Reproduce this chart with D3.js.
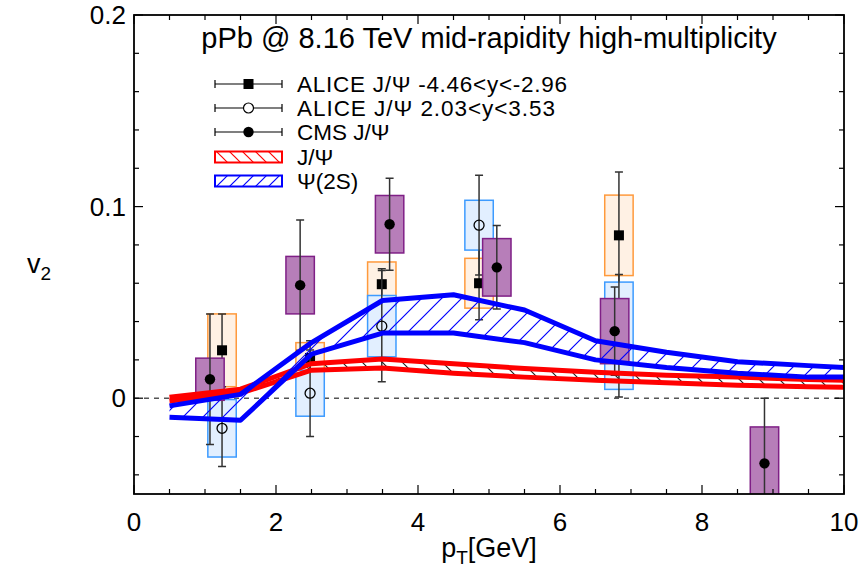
<!DOCTYPE html>
<html>
<head>
<meta charset="utf-8">
<script src="https://cdn.jsdelivr.net/npm/d3@7"></script>
<style>
  body { margin: 0; background: #fff; }
  text { font-family: 'Liberation Sans', Arial, sans-serif; }
</style>
</head>
<body>
<div id="chart"></div>
<script>
// model bands (pt grid + upper/lower edges)
const bandPt = [0.5, 1.5, 2.5, 3.5, 4.5, 5.5, 6.5, 7.5, 8.5, 9.5, 10];
const jpsiUpper = [0.0005, 0.0047, 0.018, 0.0205, 0.018, 0.0155, 0.0135, 0.012, 0.011, 0.0097, 0.0094];
const jpsiLower = [-0.0015, 0.0026, 0.0146, 0.0158, 0.013, 0.011, 0.0094, 0.008, 0.0068, 0.006, 0.0057];
const psi2sUpper = [-0.004, 0.002, 0.029, 0.051, 0.054, 0.046, 0.030, 0.024, 0.019, 0.017, 0.016];
const psi2sLower = [-0.010, -0.0115, 0.023, 0.034, 0.034, 0.029, 0.020, 0.016, 0.013, 0.011, 0.011];

// ALICE J/Psi -4.46<y<-2.96 (filled squares)
const aliceFwdPt = [1.24, 2.48, 3.49, 4.86, 6.83];
const aliceFwdV2 = [0.025, 0.021, 0.0595, 0.060, 0.085];
const aliceFwdStat = [0.019, 0.009, 0.008, 0.019, 0.033];
const aliceFwdSyst = [0.019, 0.008, 0.0116, 0.013, 0.021];

// ALICE J/Psi 2.03<y<3.53 (open circles)
const aliceBwdPt = [1.24, 2.48, 3.49, 4.86, 6.83];
const aliceBwdV2 = [-0.0157, 0.0026, 0.0376, 0.0903, 0.0326];
const aliceBwdStat = [0.020, 0.0226, 0.029, 0.026, 0.032];
const aliceBwdSyst = [0.015, 0.012, 0.016, 0.013, 0.028];

// CMS J/Psi (filled circles)
const cmsPt = [1.07, 2.34, 3.6, 5.11, 6.77, 8.88];
const cmsV2 = [0.0099, 0.059, 0.0908, 0.0683, 0.035, -0.034];
const cmsStat = [0.034, 0.034, 0.024, 0.0218, 0.023, 0.034];
const cmsSyst = [0.011, 0.015, 0.015, 0.015, 0.017, 0.019];

const xTickLabels = [0, 2, 4, 6, 8, 10];
const yTickLabels = [0, 0.1, 0.2];
const legendLabels = ['ALICE J/\u03A8 -4.46<y<-2.96', 'ALICE J/\u03A8 2.03<y<3.53', 'CMS J/\u03A8', 'J/\u03A8', '\u03A8(2S)'];

const width = 863;
const height = 570;
const margin = { top: 15, right: 19, bottom: 76, left: 134 };
const boxHalf = 0.2;

const svg = d3.select('#chart').append('svg')
  .attr('width', width)
  .attr('height', height);

const x = d3.scaleLinear().domain([0, 10]).range([margin.left, width - margin.right]);
const y = d3.scaleLinear().domain([-0.05, 0.2]).range([height - margin.bottom, margin.top]);

const defs = svg.append('defs');
function hatch(id, color, dir, step) {
  const p = defs.append('pattern')
    .attr('id', id)
    .attr('patternUnits', 'userSpaceOnUse')
    .attr('width', step)
    .attr('height', step);
  const d = dir > 0
    ? `M0,${step} L${step},0 M${-step / 2},${step / 2} L${step / 2},${-step / 2} M${step / 2},${step * 1.5} L${step * 1.5},${step / 2}`
    : `M0,0 L${step},${step} M${-step / 2},${step / 2} L${step / 2},${step * 1.5} M${step / 2},${-step / 2} L${step * 1.5},${step / 2}`;
  p.append('path').attr('d', d).attr('stroke', color).attr('stroke-width', 1.2).attr('fill', 'none');
}
hatch('hatchRed', '#222', -1, 20);
hatch('hatchBlue', '#0000ff', 1, 20);
hatch('hatchRedLeg', '#ff0000', -1, 13);
hatch('hatchBlueLeg', '#0000ff', 1, 13);

defs.append('clipPath').attr('id', 'plotClip')
  .append('rect')
  .attr('x', x(0)).attr('y', y(0.2))
  .attr('width', x(10) - x(0)).attr('height', y(-0.05) - y(0.2));

const plot = svg.append('g').attr('clip-path', 'url(#plotClip)');

// zero line
plot.append('line')
  .attr('x1', x(0)).attr('x2', x(10))
  .attr('y1', y(0)).attr('y2', y(0))
  .attr('stroke', '#555')
  .attr('stroke-width', 1.5)
  .attr('stroke-dasharray', '5,5');

function rows(pt, v2, stat, syst) {
  return pt.map((p, i) => ({ pt: p, v2: v2[i], stat: stat[i], syst: syst[i] }));
}

// one experiment: syst boxes, stat bars, markers
function series(data, fill, stroke, marker) {
  const g = plot.append('g');
  g.append('g')
    .selectAll('rect')
    .data(data)
    .join('rect')
      .attr('x', d => x(d.pt - boxHalf))
      .attr('width', d => x(d.pt + boxHalf) - x(d.pt - boxHalf))
      .attr('y', d => y(d.v2 + d.syst))
      .attr('height', d => y(d.v2 - d.syst) - y(d.v2 + d.syst))
      .attr('fill', fill)
      .attr('stroke', stroke)
      .attr('stroke-width', 1.5);

  const eb = g.append('g')
    .attr('stroke', '#333')
    .attr('stroke-width', 1.5);
  eb.selectAll('line')
    .data(data)
    .join('line')
      .attr('x1', d => x(d.pt)).attr('x2', d => x(d.pt))
      .attr('y1', d => y(d.v2 + d.stat)).attr('y2', d => y(d.v2 - d.stat));
  eb.selectAll('path')
    .data(data)
    .join('path')
      .attr('d', d => `M${x(d.pt) - 4},${y(d.v2 + d.stat)}h8M${x(d.pt) - 4},${y(d.v2 - d.stat)}h8`);

  const m = g.append('g');
  if (marker === 'square') {
    m.selectAll('rect')
      .data(data)
      .join('rect')
        .attr('x', d => x(d.pt) - 5)
        .attr('y', d => y(d.v2) - 5)
        .attr('width', 10)
        .attr('height', 10)
        .attr('fill', '#000');
  } else {
    m.selectAll('circle')
      .data(data)
      .join('circle')
        .attr('cx', d => x(d.pt))
        .attr('cy', d => y(d.v2))
        .attr('r', marker === 'open' ? 5 : 5.2)
        .attr('fill', marker === 'open' ? 'none' : '#000')
        .attr('stroke', marker === 'open' ? '#000' : 'none')
        .attr('stroke-width', 1.3);
  }
}
series(rows(aliceFwdPt, aliceFwdV2, aliceFwdStat, aliceFwdSyst), '#fff1e4', '#ff9a3c', 'square');
series(rows(aliceBwdPt, aliceBwdV2, aliceBwdStat, aliceBwdSyst), '#e2efff', '#3d9bff', 'open');
series(rows(cmsPt, cmsV2, cmsStat, cmsSyst), '#b77eb9', '#7f1f86', 'filled');

// model bands
function band(upper, lower, color, patternId) {
  const pts = bandPt.map((p, i) => ({ pt: p, hi: upper[i], lo: lower[i] }));
  plot.append('path')
    .datum(pts)
    .attr('fill', `url(#${patternId})`)
    .attr('d', d3.area().x(d => x(d.pt)).y0(d => y(d.lo)).y1(d => y(d.hi)));
  const line = d3.line().x(d => x(d.pt));
  [d => y(d.hi), d => y(d.lo)].forEach(acc => {
    plot.append('path')
      .datum(pts)
      .attr('fill', 'none')
      .attr('stroke', color)
      .attr('stroke-width', 5)
      .attr('stroke-linejoin', 'round')
      .attr('d', line.y(acc));
  });
}
band(jpsiUpper, jpsiLower, '#ff0000', 'hatchRed');
band(psi2sUpper, psi2sLower, '#0000ff', 'hatchBlue');

// axes
const axes = svg.append('g');
const xMinor = d3.range(0, 10.01, 0.5);
const yMinor = d3.range(-0.04, 0.2001, 0.02);
function isMajorX(v) { return Math.abs(v / 2 - Math.round(v / 2)) < 1e-6; }
function isMajorY(v) { return Math.abs(v / 0.1 - Math.round(v / 0.1)) < 1e-6; }

axes.append('g').selectAll('line')
  .data(xMinor)
  .join('line')
    .attr('x1', d => x(d)).attr('x2', d => x(d))
    .attr('y1', y(-0.05)).attr('y2', d => y(-0.05) - (isMajorX(d) ? 9 : 5))
    .attr('stroke', '#000').attr('stroke-width', 1.2);
axes.append('g').selectAll('line')
  .data(xMinor)
  .join('line')
    .attr('x1', d => x(d)).attr('x2', d => x(d))
    .attr('y1', y(0.2)).attr('y2', d => y(0.2) + (isMajorX(d) ? 9 : 5))
    .attr('stroke', '#000').attr('stroke-width', 1.2);
axes.append('g').selectAll('line')
  .data(yMinor)
  .join('line')
    .attr('y1', d => y(d)).attr('y2', d => y(d))
    .attr('x1', x(0)).attr('x2', d => x(0) + (isMajorY(d) ? 9 : 5))
    .attr('stroke', '#000').attr('stroke-width', 1.2);
axes.append('g').selectAll('line')
  .data(yMinor)
  .join('line')
    .attr('y1', d => y(d)).attr('y2', d => y(d))
    .attr('x1', x(10)).attr('x2', d => x(10) - (isMajorY(d) ? 9 : 5))
    .attr('stroke', '#000').attr('stroke-width', 1.2);

axes.append('rect')
  .attr('x', x(0)).attr('y', y(0.2))
  .attr('width', x(10) - x(0)).attr('height', y(-0.05) - y(0.2))
  .attr('fill', 'none')
  .attr('stroke', '#000')
  .attr('stroke-width', 1.8);

axes.append('g')
  .attr('font-size', 26)
  .attr('text-anchor', 'middle')
  .selectAll('text')
  .data(xTickLabels)
  .join('text')
    .attr('x', d => x(d))
    .attr('y', y(-0.05) + 37)
    .text(d => d);

axes.append('g')
  .attr('font-size', 26)
  .attr('text-anchor', 'end')
  .selectAll('text')
  .data(yTickLabels)
  .join('text')
    .attr('x', x(0) - 8)
    .attr('y', d => y(d) + 9)
    .text(d => d);

// axis titles
const xt = svg.append('text')
  .attr('x', x(5))
  .attr('y', 557)
  .attr('text-anchor', 'middle')
  .attr('font-size', 27);
xt.append('tspan').text('p');
xt.append('tspan').attr('font-size', 19).attr('dy', 7).text('T');
xt.append('tspan').attr('dy', -7).text('[GeV]');

const yt = svg.append('text')
  .attr('x', 27)
  .attr('y', 273)
  .attr('font-size', 27);
yt.append('tspan').text('v');
yt.append('tspan').attr('font-size', 19).attr('dy', 7).text('2');

svg.append('text')
  .attr('x', x(5))
  .attr('y', 48)
  .attr('text-anchor', 'middle')
  .attr('font-size', 29)
  .text('pPb @ 8.16 TeV mid-rapidity high-multiplicity');

// legend
const legend = svg.append('g').attr('font-size', 22.5);
const legX0 = 215, legX1 = 282, legTextX = 297;
const legY = [84, 108, 132, 157, 181];

[0, 1, 2].forEach(i => {
  const g = legend.append('g').attr('stroke', '#000').attr('stroke-width', 1.2);
  g.append('path').attr('d', `M${legX0},${legY[i]}H${legX1}M${legX0},${legY[i] - 4}v8M${legX1},${legY[i] - 4}v8`);
});
legend.append('rect').attr('x', (legX0 + legX1) / 2 - 5).attr('y', legY[0] - 5).attr('width', 10).attr('height', 10).attr('fill', '#000');
legend.append('circle').attr('cx', (legX0 + legX1) / 2).attr('cy', legY[1]).attr('r', 5).attr('fill', '#fff').attr('stroke', '#000').attr('stroke-width', 1.2);
legend.append('circle').attr('cx', (legX0 + legX1) / 2).attr('cy', legY[2]).attr('r', 5.2).attr('fill', '#000');

legend.append('rect').attr('x', legX0).attr('y', legY[3] - 5.5).attr('width', legX1 - legX0).attr('height', 11)
  .attr('fill', 'url(#hatchRedLeg)').attr('stroke', '#ff0000').attr('stroke-width', 2);
legend.append('rect').attr('x', legX0).attr('y', legY[4] - 5.5).attr('width', legX1 - legX0).attr('height', 11)
  .attr('fill', 'url(#hatchBlueLeg)').attr('stroke', '#0000ff').attr('stroke-width', 2);

legend.selectAll('text.lab')
  .data(legendLabels)
  .join('text')
    .attr('x', legTextX)
    .attr('y', (d, i) => legY[i] + 8)
    .attr('textLength', (d, i) => i === 0 ? 270 : (i === 1 ? 258 : null))
    .text(d => d);
</script>
</body>
</html>
